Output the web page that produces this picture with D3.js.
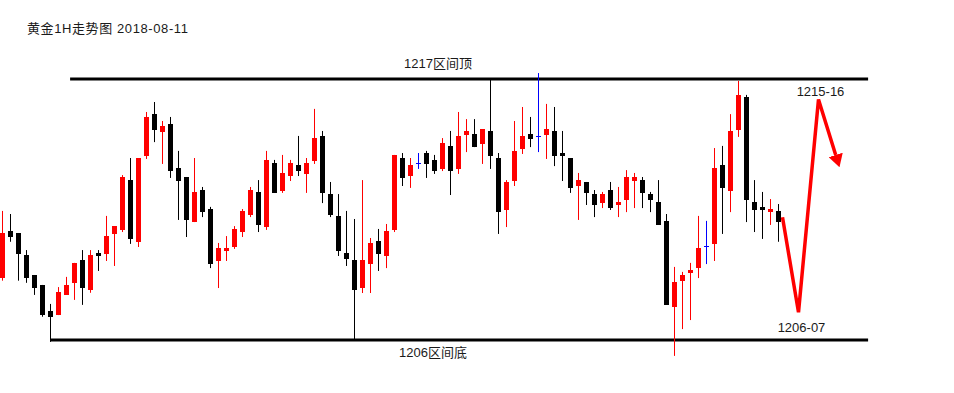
<!DOCTYPE html>
<html>
<head>
<meta charset="utf-8">
<script src="https://cdn.jsdelivr.net/npm/d3@7"></script>
<style>
    html, body { margin: 0; padding: 0; background: #fff; }
    svg { display: block; }
    text { font-family: "Liberation Sans", "Noto Sans CJK SC", sans-serif; font-size: 13px; fill: #1a1a1a; }
    .title { letter-spacing: 0.6px; }
</style>
</head>
<body>
<div id="chart"></div>
<script>
'use strict';

// 1H candles (price units)
var opens = [
    1208.63, 1210.59, 1210.51, 1209.58, 1208.74, 1208.32, 1207.22, 1207.05, 1207.90, 1208.41,
    1209.37, 1208.11, 1209.67, 1209.64, 1210.48, 1210.64, 1212.74, 1210.13, 1213.75, 1215.52,
    1214.78, 1215.10, 1213.25, 1212.87, 1210.97, 1212.32, 1211.52, 1209.33, 1209.75, 1209.92,
    1210.55, 1211.27, 1212.24, 1210.76, 1213.46, 1212.28, 1212.91, 1213.38, 1213.00, 1213.54,
    1214.60, 1212.15, 1211.23, 1209.67, 1209.37, 1208.19, 1209.20, 1210.17, 1209.54, 1210.64,
    1213.67, 1212.91, 1213.45, 1213.88, 1213.59, 1213.21, 1214.18, 1213.21, 1214.64, 1214.68,
    1214.26, 1214.81, 1213.67, 1211.48, 1212.70, 1214.05, 1214.68, 1214.59, 1214.64, 1214.81,
    1213.88, 1213.67, 1212.49, 1212.66, 1212.15, 1211.77, 1212.32, 1211.69, 1211.90, 1212.70,
    1212.74, 1212.15, 1211.82, 1211.02, 1207.39, 1208.49, 1208.82, 1209.03, 1209.96, 1210.05,
    1213.38, 1212.28, 1214.85, 1216.24, 1211.82, 1211.61, 1211.39, 1211.44
];
var highs = [
    1211.44, 1211.31, 1210.51, 1209.79, 1208.74, 1208.32, 1207.52, 1208.23, 1208.66, 1209.25,
    1209.79, 1209.79, 1209.79, 1211.23, 1210.80, 1212.95, 1213.67, 1213.67, 1215.61, 1216.03,
    1215.23, 1215.40, 1213.97, 1212.87, 1213.67, 1212.45, 1211.61, 1210.09, 1210.38, 1210.80,
    1211.52, 1212.45, 1212.74, 1213.97, 1213.59, 1213.80, 1213.59, 1214.60, 1213.67, 1215.74,
    1214.81, 1212.66, 1212.15, 1211.44, 1211.10, 1212.74, 1210.30, 1210.68, 1210.89, 1213.80,
    1213.88, 1213.67, 1213.88, 1213.97, 1213.80, 1214.51, 1214.81, 1215.61, 1215.31, 1215.31,
    1214.89, 1217.00, 1213.88, 1212.74, 1215.23, 1215.82, 1215.40, 1217.25, 1215.95, 1215.82,
    1214.81, 1213.67, 1213.04, 1212.66, 1212.32, 1212.24, 1212.66, 1212.45, 1213.16, 1213.04,
    1212.87, 1212.24, 1212.74, 1211.31, 1209.08, 1208.87, 1209.25, 1211.23, 1211.02, 1214.09,
    1214.18, 1215.52, 1216.92, 1216.33, 1212.74, 1212.24, 1211.94, 1211.73
];
var lows = [
    1208.50, 1210.14, 1208.50, 1208.41, 1207.90, 1206.98, 1205.92, 1207.05, 1207.90, 1207.69,
    1207.48, 1207.99, 1208.91, 1209.33, 1209.12, 1210.55, 1210.05, 1209.92, 1213.63, 1214.34,
    1213.42, 1212.83, 1211.06, 1210.34, 1210.97, 1211.18, 1209.03, 1208.19, 1209.33, 1209.84,
    1210.34, 1211.18, 1210.55, 1210.64, 1212.20, 1212.20, 1212.70, 1212.91, 1212.20, 1213.42,
    1211.77, 1211.18, 1209.54, 1209.12, 1206.00, 1207.98, 1207.98, 1208.91, 1209.03, 1210.55,
    1212.49, 1212.41, 1213.21, 1212.83, 1213.00, 1213.12, 1212.11, 1213.00, 1213.92, 1214.13,
    1213.42, 1213.21, 1210.47, 1210.76, 1212.49, 1213.84, 1214.13, 1213.92, 1213.63, 1213.33,
    1212.70, 1212.20, 1211.06, 1211.69, 1211.18, 1211.56, 1211.48, 1211.18, 1211.39, 1211.56,
    1211.56, 1211.39, 1210.85, 1207.48, 1205.33, 1206.46, 1206.84, 1208.61, 1209.20, 1209.33,
    1210.47, 1211.39, 1214.56, 1210.97, 1210.55, 1210.26, 1210.85, 1210.14
];
var closes = [
    1210.52, 1210.35, 1209.64, 1208.63, 1208.20, 1207.05, 1206.98, 1208.02, 1208.32, 1209.25,
    1208.20, 1209.58, 1209.54, 1210.38, 1210.80, 1212.87, 1210.26, 1213.67, 1215.40, 1214.86,
    1215.02, 1213.12, 1212.70, 1211.06, 1212.24, 1211.39, 1209.20, 1209.88, 1209.88, 1210.68,
    1211.44, 1212.32, 1210.85, 1213.59, 1212.20, 1213.04, 1213.46, 1213.12, 1213.46, 1214.51,
    1212.20, 1211.27, 1209.75, 1209.41, 1208.11, 1209.37, 1210.09, 1209.62, 1210.59, 1213.80,
    1212.83, 1213.38, 1213.45, 1213.42, 1213.12, 1214.30, 1213.12, 1214.60, 1214.81, 1214.13,
    1214.89, 1213.75, 1211.39, 1212.66, 1213.97, 1214.60, 1214.47, 1214.59, 1214.89, 1213.75,
    1213.75, 1212.41, 1212.74, 1212.20, 1211.69, 1212.15, 1211.56, 1211.82, 1212.87, 1212.87,
    1212.20, 1211.90, 1210.85, 1207.48, 1208.44, 1208.74, 1208.95, 1209.88, 1209.96, 1213.25,
    1212.41, 1214.81, 1216.33, 1211.90, 1211.48, 1211.48, 1211.52, 1210.97
];

// range lines: [label, price, from bar, to bar]
var rangeLabels = ['1217区间顶', '1206区间底'];
var rangePrices = [1217, 1206];
var rangeFrom   = [8.45, 6];
var rangeTo     = [108.2, 108.2];

// projected path (bar index, price)
var projX = [97.5, 99.5, 102, 104.15];
var projY = [1211.17, 1207.17, 1216.14, 1213.8];
var projLabels = ['1215-16', '1206-07'];

var width  = 954,
    height = 393,
    colors = {up: '#ff0000', down: '#000000', flat: '#0000ff'};

var bars = opens.map(function (o, i) {
    return {i: i, open: o, high: highs[i], low: lows[i], close: closes[i]};
});

var x = d3.scaleLinear().domain([0, 97]).range([2.5, 778.5]),
    y = d3.scaleLinear().domain([1206, 1217]).range([340, 79]);

function barColor(d) {
    if (d.close > d.open) return colors.up;
    if (d.close < d.open) return colors.down;
    return colors.flat;
}

var svg = d3.select('#chart').append('svg')
    .attr('width', width)
    .attr('height', height);

svg.append('rect').attr('width', width).attr('height', height).attr('fill', '#fff');

svg.append('text')
    .attr('class', 'title')
    .attr('x', 27)
    .attr('y', 33)
    .text('黄金1H走势图 2018-08-11');

// range top / bottom
var ranges = rangePrices.map(function (p, k) {
    return {price: p, from: rangeFrom[k], to: rangeTo[k], label: rangeLabels[k]};
});

svg.selectAll('.range')
    .data(ranges)
    .enter().append('line')
    .attr('class', 'range')
    .attr('x1', function (d) { return x(d.from); })
    .attr('x2', function (d) { return x(d.to); })
    .attr('y1', function (d) { return y(d.price); })
    .attr('y2', function (d) { return y(d.price); })
    .attr('stroke', '#000')
    .attr('stroke-width', 3);

svg.selectAll('.range-label')
    .data(ranges)
    .enter().append('text')
    .attr('class', 'range-label')
    .attr('text-anchor', 'middle')
    .attr('x', function (d, k) { return k === 0 ? 438 : 433; })
    .attr('y', function (d, k) { return y(d.price) + (k === 0 ? -11 : 17); })
    .text(function (d) { return d.label; });

// candles
var g = svg.append('g').attr('class', 'candles');

var candle = g.selectAll('.bar')
    .data(bars)
    .enter().append('g')
    .attr('class', 'bar');

candle.append('line')
    .attr('x1', function (d) { return x(d.i); })
    .attr('x2', function (d) { return x(d.i); })
    .attr('y1', function (d) { return y(d.high); })
    .attr('y2', function (d) { return y(d.low); })
    .attr('stroke', barColor)
    .attr('stroke-width', 1);

candle.filter(function (d) { return d.open !== d.close; })
    .append('rect')
    .attr('x', function (d) { return x(d.i) - 2.5; })
    .attr('width', 5)
    .attr('y', function (d) { return Math.round(y(Math.max(d.open, d.close))); })
    .attr('height', function (d) {
        var top = Math.round(y(Math.max(d.open, d.close))),
            bot = Math.round(y(Math.min(d.open, d.close)));
        return Math.max(1, bot - top);
    })
    .attr('fill', barColor);

candle.filter(function (d) { return d.open === d.close; })
    .append('line')
    .attr('x1', function (d) { return x(d.i) - 2.5; })
    .attr('x2', function (d) { return x(d.i) + 2.5; })
    .attr('y1', function (d) { return Math.round(y(d.open)) + 0.5; })
    .attr('y2', function (d) { return Math.round(y(d.open)) + 0.5; })
    .attr('stroke', barColor)
    .attr('stroke-width', 1);

// projection arrow
svg.append('defs').append('marker')
    .attr('id', 'arrow')
    .attr('markerUnits', 'userSpaceOnUse')
    .attr('viewBox', '0 -7.35 12.8 14.7')
    .attr('markerWidth', 12.8)
    .attr('markerHeight', 14.7)
    .attr('refX', 0)
    .attr('refY', 0)
    .attr('orient', 'auto')
    .append('path')
    .attr('d', 'M0,-7.35L12.8,0L0,7.35Z')
    .attr('fill', '#ff0000');

var line = d3.line()
    .x(function (d) { return x(d[0]); })
    .y(function (d) { return y(d[1]); });

svg.append('path')
    .datum(projX.map(function (v, k) { return [v, projY[k]]; }))
    .attr('d', line)
    .attr('fill', 'none')
    .attr('stroke', '#ff0000')
    .attr('stroke-width', 3.5)
    .attr('stroke-linejoin', 'miter')
    .attr('marker-end', 'url(#arrow)');

svg.append('text')
    .attr('x', x(projX[2]) + 2)
    .attr('y', 96)
    .attr('text-anchor', 'middle')
    .text(projLabels[0]);

svg.append('text')
    .attr('x', x(projX[1]) + 3)
    .attr('y', 332)
    .attr('text-anchor', 'middle')
    .text(projLabels[1]);
</script>
</body>
</html>
